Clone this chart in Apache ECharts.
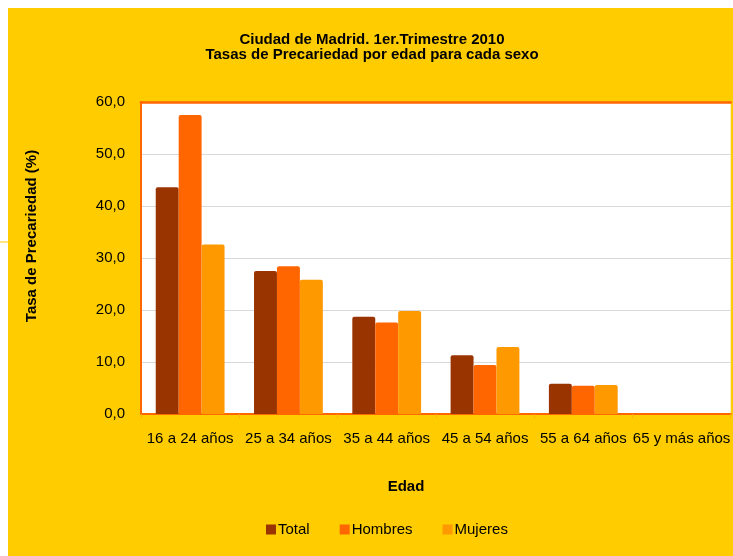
<!DOCTYPE html>
<html>
<head>
<meta charset="utf-8">
<script src="https://cdn.jsdelivr.net/npm/echarts@6/dist/echarts.min.js"></script>
<style>
html,body{margin:0;padding:0;background:#ffffff;}
#chart{width:733px;height:556px;}
</style>
</head>
<body>
<div id="chart"></div>
<script>
var categories = ['16 a 24 años','25 a 34 años','35 a 44 años','45 a 54 años','55 a 64 años','65 y más años'];
var totalValues = [43.6, 27.5, 18.7, 11.3, 5.8, 0];
var hombresValues = [57.5, 28.4, 17.6, 9.4, 5.45, 0];
var mujeresValues = [32.6, 25.8, 19.8, 12.9, 5.6, 0];
var yTicks = [0, 10, 20, 30, 40, 50, 60];

var chart = echarts.init(document.getElementById('chart'), null, {renderer:'canvas'});
var font = 'Liberation Sans, Arial, sans-serif';
chart.setOption({
  backgroundColor: '#ffffff',
  animation: false,
  graphic: [
    {type:'rect', left:8, top:8, shape:{width:725, height:548}, style:{fill:'#FFCC00'}, z:-10, silent:true},
    {type:'line', shape:{x1:0, y1:242, x2:8, y2:242}, style:{stroke:'#FFCC00', lineWidth:1}, z:-10, silent:true},
    {type:'text', x:32, y:236, rotation: Math.PI/2, silent:true,
      style:{text:'Tasa de Precariedad (%)', fontFamily: font, fontSize: 15, fontWeight:'bold', fill:'#000', align:'center', verticalAlign:'middle'}},
    {type:'text', x:406, y:487, silent:true,
      style:{text:'Edad', fontFamily: font, fontSize: 15, fontWeight:'bold', fill:'#000', align:'center', verticalAlign:'middle'}}
  ],
  title: {
    text: 'Ciudad de Madrid. 1er.Trimestre 2010\nTasas de Precariedad por edad para cada sexo',
    left: 367, top: 27, textAlign: 'center',
    textStyle: {fontFamily: font, fontSize: 15, fontWeight: 'bold', color: '#000', lineHeight: 15}
  },
  legend: {
    data: ['Total','Hombres','Mujeres'],
    left: 261, top: 517,
    itemWidth: 10, itemHeight: 10, itemGap: 30,
    icon: 'rect',
    textStyle: {fontFamily: font, fontSize: 15, color: '#000', padding:[0,0,0,-3]}
  },
  grid: {left: 141, top: 102, width: 594, height: 312, show: true, borderWidth: 0, backgroundColor: '#ffffff', containLabel: false},
  xAxis: [{
    type: 'category',
    data: categories,
    axisLine: {show: true, lineStyle: {color: '#FF6600', width: 2}},
    axisTick: {show: true, length: 4, lineStyle: {color: '#FFB000'}},
    axisLabel: {fontFamily: font, fontSize: 15, color: '#000', margin: 17, interval: 0}
  }, {
    type: 'category', position: 'top',
    data: categories,
    axisLine: {show: true, lineStyle: {color: '#FF6600', width: 2.5}},
    axisTick: {show: false},
    axisLabel: {show: false}
  }],
  yAxis: {
    type: 'value', min: 0, max: 60, interval: 10,
    axisLine: {show: true, lineStyle: {color: '#FF6600', width: 2}},
    axisTick: {show: false},
    splitLine: {lineStyle: {color: '#D9D9D9', width: 1}},
    axisLabel: {fontFamily: font, fontSize: 15, color: '#000', margin: 16,
      formatter: function(v){ return yTicks.indexOf(v) >= 0 ? v.toFixed(1).replace('.', ',') : ''; }}
  },
  series: [
    {name:'Total', type:'bar', data: totalValues, barGap:'0%', barCategoryGap:'30%', itemStyle:{color:'#993300', borderRadius:[2,2,0,0]}},
    {name:'Hombres', type:'bar', data: hombresValues, itemStyle:{color:'#FF6600', borderRadius:[2,2,0,0]}},
    {name:'Mujeres', type:'bar', data: mujeresValues, itemStyle:{color:'#FF9900', borderRadius:[2,2,0,0]}}
  ]
});
</script>
</body>
</html>
